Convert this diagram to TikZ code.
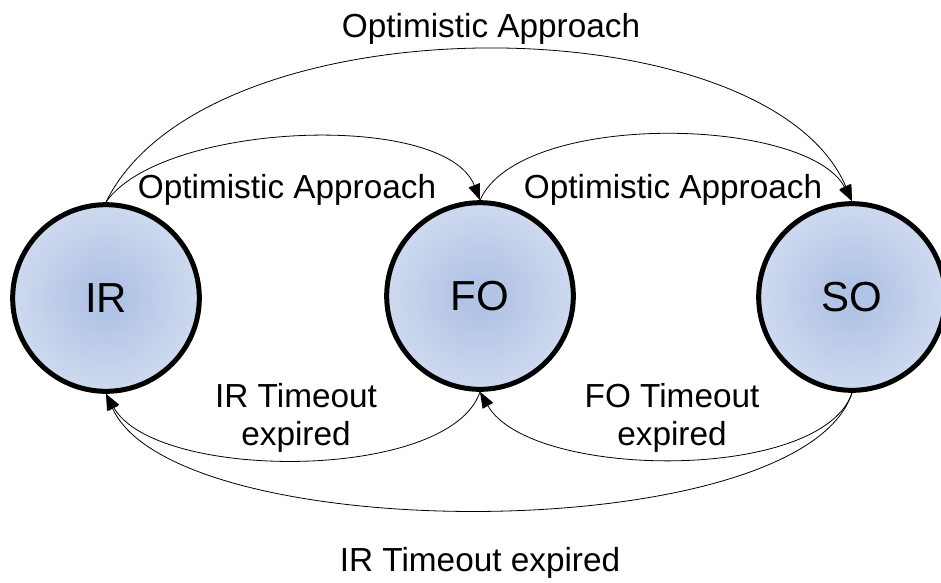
\documentclass[tikz,border=0pt]{standalone}
\usepackage{fontspec}
\setmainfont{Liberation Sans}
\usetikzlibrary{arrows.meta}

\definecolor{statein}{RGB}{178,196,229}
\definecolor{stateout}{RGB}{236,241,249}
\colorlet{statemid}{statein!45!stateout}
\pgfdeclareradialshading{stateglow}{\pgfpoint{0bp}{0bp}}{color(0bp)=(statein); color(5bp)=(statein); color(28bp)=(statemid); color(50bp)=(stateout)}

\tikzset{every picture/.style={line width=0.75pt},
  state/.style={circle, draw, line width=3.75pt, minimum size=140pt, shade, shading=stateglow, font=\fontsize{31.5}{36}\selectfont},
  trans/.style={line width=0.6pt, -{Triangle[length=12pt,width=9pt]}},
  tlabel/.style={font=\fontsize{25}{28.5}\selectfont, inner sep=0pt, align=center}}

\begin{document}
\begin{tikzpicture}[x=0.75pt,y=0.75pt,yscale=-1,xscale=1]
\useasboundingbox (0,0) rectangle (941,582);

%Shape: Circle [states]
\node[state] (IR) at (106,298) {IR};
\node[state] (FO) at (480,296) {FO};
\node[state] (SO) at (852,297) {SO};

%Curve Lines [upper transitions]
\draw[trans] (IR.north) .. controls +(55,-80) and +(-35,-90) .. (FO.north);
\draw[trans] (FO.north) .. controls +(40,-90) and +(-45,-85) .. (SO.north);
\draw[trans] (IR.north) .. controls +(100,-205) and +(-85,-200) .. (SO.north);

%Curve Lines [lower transitions]
\draw[trans] (FO.south) .. controls +(-30,90) and +(50,88) .. (IR.south);
\draw[trans] (SO.south) .. controls +(-30,90) and +(50,88) .. (FO.south);
\draw[trans] (SO.south) .. controls +(-50,155) and +(70,155) .. (IR.south);

% Text Node
\node[tlabel, anchor=base] (optall) at (491,37) {Optimistic Approach};
% Text Node
\node[tlabel, anchor=base] (optir) at (287,198) {Optimistic Approach};
% Text Node
\node[tlabel, anchor=base] (optfo) at (673,198) {Optimistic Approach};
% Text Node
\node[tlabel, anchor=north] (toir) at (296,383) {IR Timeout\\expired};
% Text Node
\node[tlabel, anchor=north] (tofo) at (672,383) {FO Timeout\\expired};
% Text Node
\node[tlabel, anchor=base] (toall) at (480,571) {IR Timeout expired};

\end{tikzpicture}
\end{document}
